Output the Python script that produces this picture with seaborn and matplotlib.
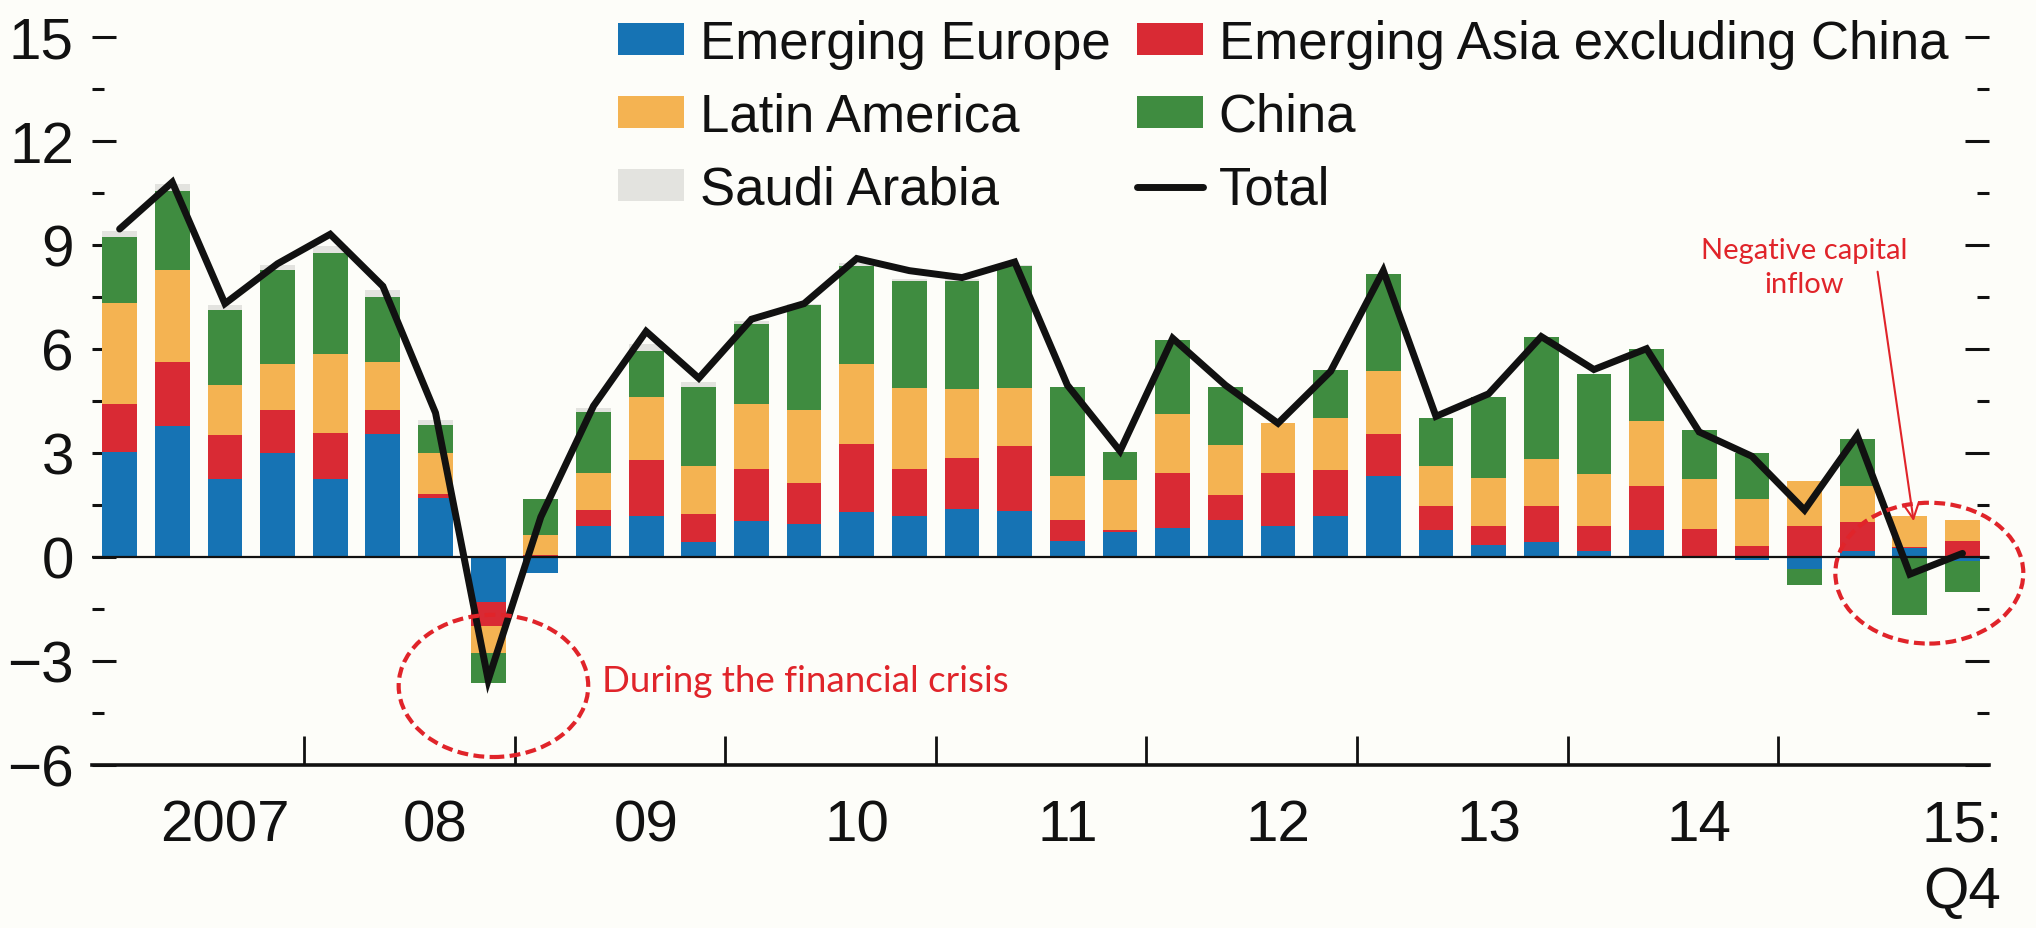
import numpy as np
import matplotlib
matplotlib.use("Agg")
import matplotlib.pyplot as plt
import seaborn as sns
from matplotlib.patches import Ellipse, Patch
from matplotlib.lines import Line2D

# ---------------- data (percent of GDP, quarterly 2007:Q1 - 2015:Q4) ----------------
quarters = ["2007Q1", "2007Q2", "2007Q3", "2007Q4", "2008Q1", "2008Q2", "2008Q3", "2008Q4",
            "2009Q1", "2009Q2", "2009Q3", "2009Q4", "2010Q1", "2010Q2", "2010Q3", "2010Q4",
            "2011Q1", "2011Q2", "2011Q3", "2011Q4", "2012Q1", "2012Q2", "2012Q3", "2012Q4",
            "2013Q1", "2013Q2", "2013Q3", "2013Q4", "2014Q1", "2014Q2", "2014Q3", "2014Q4",
            "2015Q1", "2015Q2", "2015Q3", "2015Q4"]

emerging_europe = [3.03, 3.78, 2.23, 3.00, 2.23, 3.53, 1.69, -1.29,
                   -0.47, 0.90, 1.17, 0.44, 1.03, 0.95, 1.28, 1.17,
                   1.37, 1.31, 0.46, 0.73, 0.84, 1.06, 0.90, 1.17,
                   2.32, 0.77, 0.33, 0.44, 0.16, 0.77, 0.02, -0.10,
                   -0.35, 0.17, 0.25, -0.12]
emerging_asia_ex_china = [1.37, 1.83, 1.27, 1.23, 1.33, 0.70, 0.12, -0.71,
                          0.05, 0.44, 1.61, 0.79, 1.51, 1.17, 1.97, 1.37,
                          1.48, 1.89, 0.60, 0.03, 1.59, 0.71, 1.53, 1.32,
                          1.21, 0.71, 0.57, 1.04, 0.74, 1.26, 0.79, 0.31,
                          0.88, 0.84, 0.02, 0.47]
latin_america = [2.91, 2.65, 1.45, 1.32, 2.30, 1.40, 1.17, -0.77,
                 0.57, 1.09, 1.82, 1.40, 1.88, 2.12, 2.30, 2.33,
                 1.99, 1.67, 1.26, 1.45, 1.70, 1.45, 1.43, 1.51,
                 1.83, 1.15, 1.38, 1.35, 1.49, 1.89, 1.42, 1.35,
                 1.30, 1.04, 0.92, 0.60]
china = [1.91, 2.30, 2.17, 2.71, 2.90, 1.86, 0.82, -0.88,
         1.04, 1.75, 1.34, 2.27, 2.28, 3.01, 2.82, 3.09,
         3.12, 3.50, 2.58, 0.82, 2.11, 1.68, 0.00, 1.39,
         2.79, 1.37, 2.32, 3.50, 2.87, 2.07, 1.43, 1.32,
         -0.45, 1.34, -1.68, -0.90]
saudi_arabia = [0.18, 0.20, 0.15, 0.15, 0.20, 0.20, 0.15, 0.00,
                0.00, 0.12, 0.20, 0.15, 0.10, 0.05, 0.10, 0.05,
                0.05, 0.05, 0.00, 0.00, 0.00, 0.00, 0.00, 0.00,
                0.00, 0.00, 0.00, 0.00, 0.00, 0.00, 0.00, 0.00,
                0.00, 0.00, 0.00, 0.00]
total = [9.45, 10.80, 7.30, 8.45, 9.30, 7.80, 4.15, -3.55,
         1.15, 4.35, 6.50, 5.15, 6.85, 7.30, 8.60, 8.25,
         8.05, 8.50, 4.95, 3.05, 6.30, 4.95, 3.85, 5.35,
         8.25, 4.05, 4.70, 6.35, 5.40, 6.00, 3.60, 2.90,
         1.35, 3.50, -0.50, 0.10]

series_names = ["Emerging Europe", "Emerging Asia excluding China", "Latin America",
                "China", "Saudi Arabia"]
year_labels = ["2007", "08", "09", "10", "11", "12", "13", "14", "15:\nQ4"]
year_label_quarters = ["2007Q3", "2008Q3", "2009Q3", "2010Q3", "2011Q3", "2012Q3",
                       "2013Q3", "2014Q3", "2015Q4"]
y_ticks = [-6, -3, 0, 3, 6, 9, 12, 15]
y_tick_labels = ["\u22126", "\u22123", "0", "3", "6", "9", "12", "15"]

# ---------------- style ----------------
BG = "#fdfdf9"
colors = {"Emerging Europe": "#1673b4",
          "Emerging Asia excluding China": "#d92a34",
          "Latin America": "#f4b352",
          "China": "#3f8c40",
          "Saudi Arabia": "#e3e3df"}
RED = "#e0242a"
INK = "#111111"

sns.set_theme(style="white")
plt.rcParams["font.family"] = ["Liberation Sans", "DejaVu Sans"]
plt.rcParams["axes.facecolor"] = BG
plt.rcParams["figure.facecolor"] = BG
plt.rcParams["text.color"] = INK
plt.rcParams["xtick.color"] = INK
plt.rcParams["ytick.color"] = INK

fig = plt.figure(figsize=(20.36, 9.29), dpi=100)
ax = fig.add_axes([92 / 2036, 1 - 766 / 929, (1989 - 92) / 2036, (766 - 37.5) / 929])

x = np.arange(len(quarters))
data = {"Emerging Europe": emerging_europe,
        "Emerging Asia excluding China": emerging_asia_ex_china,
        "Latin America": latin_america,
        "China": china,
        "Saudi Arabia": saudi_arabia}

pos_bottom = np.zeros(len(x))
neg_bottom = np.zeros(len(x))
for name in series_names:
    vals = np.array(data[name], dtype=float)
    pos = np.where(vals > 0, vals, 0.0)
    neg = np.where(vals < 0, vals, 0.0)
    ax.bar(x, pos, bottom=pos_bottom, width=0.66, color=colors[name], linewidth=0, zorder=2)
    ax.bar(x, neg, bottom=neg_bottom, width=0.66, color=colors[name], linewidth=0, zorder=2)
    pos_bottom += pos
    neg_bottom += neg

ax.axhline(0, color=INK, lw=1.6, zorder=3)

sns.lineplot(x=x, y=total, ax=ax, color=INK, lw=5.0, zorder=5,
             solid_joinstyle="miter", legend=False)

# ---------------- axes ----------------
ax.set_xlim(-(119.6 - 92) / 52.65, 35 + (1989 - 1962.5) / 52.65)
ax.set_ylim(-6, 15)

ax.set_yticks(y_ticks)
ax.set_yticklabels(y_tick_labels)
ax.set_yticks(np.arange(-4.5, 15, 3), minor=True)
ax.tick_params(axis="y", which="major", direction="in", length=17, width=2.2,
               left=True, right=True, labelsize=42, pad=13)
ax.tick_params(axis="y", which="minor", direction="in", length=8.5, width=2.2,
               left=True, right=True)

boundaries = [quarters.index(f"{y}Q4") + 0.5 for y in range(2007, 2015)]
ax.set_xticks(boundaries)
ax.set_xticklabels([""] * len(boundaries))
label_pos = [quarters.index(q) for q in year_label_quarters]
ax.set_xticks(label_pos, minor=True)
ax.set_xticklabels(year_labels, minor=True, linespacing=1.3)
ax.tick_params(axis="x", which="major", direction="in", length=21, width=2.0,
               bottom=True, top=False)
ax.tick_params(axis="x", which="minor", length=0, labelsize=42, pad=24)

for s in ["left", "right", "top"]:
    ax.spines[s].set_visible(False)
ax.spines["bottom"].set_linewidth(2.6)
ax.spines["bottom"].set_color(INK)
ax.grid(False)

# ---------------- annotations ----------------
ax.add_patch(Ellipse((7.1, -3.72), 3.6, 4.1, fill=False, ec=RED, lw=3.0,
                     ls=(0, (2.6, 1.3)), zorder=6, clip_on=False))
ax.add_patch(Ellipse((34.37, -0.47), 3.57, 4.06, fill=False, ec=RED, lw=3.0,
                     ls=(0, (2.6, 1.3)), zorder=6, clip_on=False))
ax.text(9.16, -3.57, "During the financial crisis", color=RED, fontsize=26.5,
        ha="left", va="center", family=["Lato", "DejaVu Sans"])
ax.text(32.0, 8.36, "Negative capital\ninflow", color=RED, fontsize=21,
        ha="center", va="center", family=["Lato", "DejaVu Sans"], linespacing=1.4)
ax.annotate("", xy=(34.08, 0.95), xytext=(33.38, 8.3),
            arrowprops=dict(arrowstyle="->", color=RED, lw=1.5, mutation_scale=28))

# ---------------- legend ----------------
handles = [Patch(facecolor=colors["Emerging Europe"], edgecolor="none"),
           Patch(facecolor=colors["Latin America"], edgecolor="none"),
           Patch(facecolor=colors["Saudi Arabia"], edgecolor="none"),
           Patch(facecolor=colors["Emerging Asia excluding China"], edgecolor="none"),
           Patch(facecolor=colors["China"], edgecolor="none"),
           Line2D([0], [0], color=INK, lw=5.0)]
labels = ["Emerging Europe", "Latin America", "Saudi Arabia",
          "Emerging Asia excluding China", "China", "Total"]
fig.legend(handles, labels, ncol=2, loc="upper left", bbox_to_anchor=(618 / 2036, 0.979),
           frameon=False, fontsize=38, handlelength=1.25, handleheight=0.55,
           handletextpad=0.3, columnspacing=0.5, labelspacing=0.44,
           borderpad=0, borderaxespad=0)

fig.savefig("out.png", dpi=100, facecolor=BG)
